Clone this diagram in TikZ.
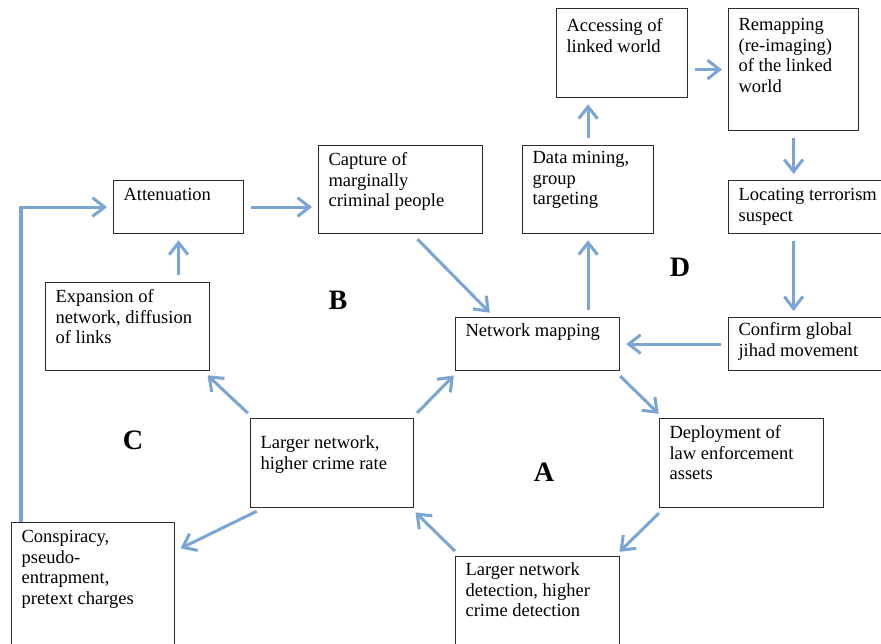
\documentclass[tikz,border=0pt]{standalone}
\usepackage{fontspec}
\setmainfont{Liberation Serif}
\usepackage{tikz}
\usetikzlibrary{arrows.meta, calc}
\definecolor{arrowBlue}{HTML}{7BA5D3}
\definecolor{boxGrey}{HTML}{2B2B2B}
\newlength{\pxu}
\setlength{\pxu}{0.03cm}
\newcommand{\boxtext}[4][20]{\parbox[c][#3\pxu][t]{#2\pxu}{\raggedright\leftskip=10\pxu\rule{0pt}{#1\pxu}#4}}

\begin{document}
\begin{tikzpicture} [x=0.03cm, y=-0.03cm,
    stepBox/.style={draw=boxGrey, line width=1pt, inner sep=0pt, anchor=north west, font=\fontsize{15.8}{17.5}\selectfont},
    flowArrow/.style={line width=2.6pt, draw=arrowBlue, -{Straight Barb[length=3.6mm, width=5.6mm]}, shorten <=7\pxu, shorten >=6\pxu},
    regionLabel/.style={font=\fontsize{24}{28}\selectfont\bfseries}
]
    \path[use as bounding box, clip] (0,0) rectangle (881,643);

    \node[stepBox] (acc) at (556,8) {\boxtext[23]{131}{89}{Accessing of\\linked world}};
    \node[stepBox] (remap) at (728,8) {\boxtext[22]{130}{122}{Remapping\\(re-imaging)\\of the linked\\world}};
    \node[stepBox] (data) at (522,145) {\boxtext[18]{131}{88}{Data mining,\\group\\targeting}};
    \node[stepBox] (cap) at (318,145) {\boxtext{164}{88}{Capture of\\marginally\\criminal people}};
    \node[stepBox] (att) at (113,180) {\boxtext{130}{53}{Attenuation}};
    \node[stepBox] (loc) at (728,180) {\boxtext{160}{53}{Locating terrorism\\suspect}};
    \node[stepBox] (expn) at (45,282) {\boxtext{164}{88}{Expansion of\\network, diffusion\\of links}};
    \node[stepBox] (nm) at (455,317) {\boxtext[19]{164}{53}{Network mapping}};
    \node[stepBox] (conf) at (728,317) {\boxtext[18]{160}{53}{Confirm global\\jihad movement}};
    \node[stepBox] (lnet) at (250,418) {\boxtext[30]{163}{89}{Larger network,\\higher crime rate}};
    \node[stepBox] (dep) at (659,418) {\boxtext{164}{89}{Deployment of\\law enforcement\\assets}};
    \node[stepBox] (consp) at (11,522) {\boxtext{163}{130}{Conspiracy,\\pseudo-\\entrapment,\\pretext charges}};
    \node[stepBox] (ldet) at (455,556) {\boxtext[19]{164}{95}{Larger network\\detection, higher\\crime detection}};

    \node[regionLabel] (labA) at (544,472) {A};
    \node[regionLabel] (labB) at (338,300) {B};
    \node[regionLabel] (labC) at (133,440) {C};
    \node[regionLabel] (labD) at (680,267) {D};

    \draw[flowArrow] (att.east) -- (att.east -| cap.west);
    \draw[flowArrow] ($(cap.south)+(12,0)$) -- ($(nm.north west)+(39,0)$);
    \draw[flowArrow] (nm.north -| data.south) -- (data.south);
    \draw[flowArrow] (data.north) -- (data.north |- acc.south);
    \draw[flowArrow] (acc.east |- remap.west) -- (remap.west);
    \draw[flowArrow] (remap.south) -- (remap.south |- loc.north);
    \draw[flowArrow] (remap.south |- loc.south) -- (remap.south |- conf.north);
    \draw[flowArrow] (conf.west) -- (nm.east);
    \draw[flowArrow] ($(nm.south east)+(-5,0)$) -- ($(dep.north west)+(4,0)$);
    \draw[flowArrow] ($(dep.south west)+(5,0)$) -- ($(ldet.north east)+(-5,0)$);
    \draw[flowArrow] ($(ldet.north west)+(5,0)$) -- ($(lnet.south east)+(-3,0)$);
    \draw[flowArrow] ($(lnet.north east)+(-2,0)$) -- ($(nm.south west)+(3,0)$);
    \draw[flowArrow] ($(lnet.north west)+(3,0)$) -- ($(expn.south east)+(-7,0)$);
    \draw[flowArrow] ($(lnet.south west)+(13,0)$) -- ($(consp.north east)+(0,29)$);
    \draw[flowArrow] (att.south |- expn.north) -- (att.south);
    % loop from C back up to attenuation
    \draw[flowArrow, shorten <=0pt] ($(consp.north west)+(10,0)$) |- (att.west);
\end{tikzpicture}
\end{document}
